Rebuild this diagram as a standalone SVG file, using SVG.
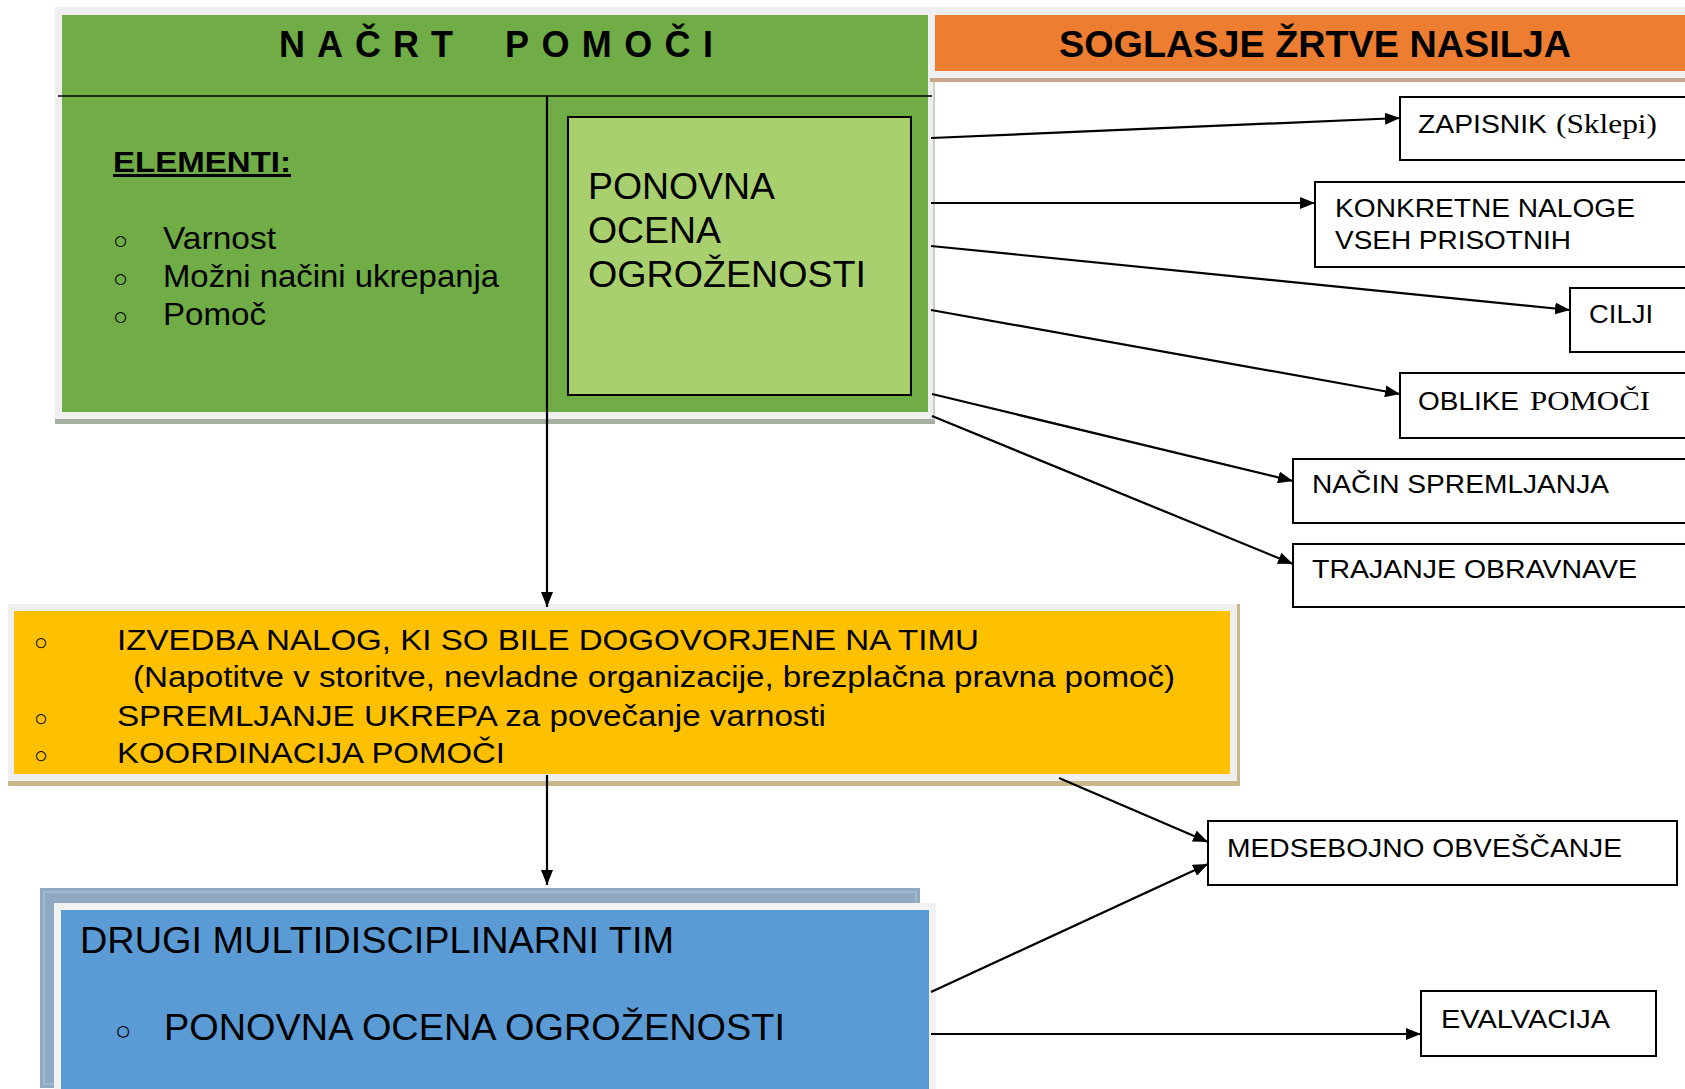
<svg xmlns="http://www.w3.org/2000/svg" width="1685" height="1089" viewBox="0 0 1685 1089">
<style>
.sans{font-family:"Liberation Sans",Arial,sans-serif;fill:#000}
.serif{font-family:"Liberation Serif","Times New Roman",serif;fill:#000}
.box{fill:#fff;stroke:#000;stroke-width:2}
.lbl{font-size:26px}
.conn{stroke:#000;stroke-width:2.2;fill:none;marker-end:url(#ah)}
</style>
<defs>
<marker id="ah" markerWidth="15" markerHeight="12" refX="15" refY="6" orient="auto" markerUnits="userSpaceOnUse">
<path d="M0,0 L15,6 L0,12 Z" fill="#000"/>
</marker>
</defs>
<rect width="1685" height="1089" fill="#fff"/>

<g id="nacrt-pomoci">
<rect x="55" y="7" width="880" height="414" fill="#efefef"/>
<rect x="55" y="419" width="880" height="5" fill="#a6b0a0"/>
<rect x="62" y="15" width="866" height="397" fill="#70ad47"/>
<line x1="58" y1="96" x2="932" y2="96" stroke="#000" stroke-width="1.5"/>
<text class="sans" x="279" y="57" font-size="36" font-weight="bold" textLength="174" lengthAdjust="spacing">NAČRT</text>
<text class="sans" x="505" y="57" font-size="36" font-weight="bold" textLength="208" lengthAdjust="spacing">POMOČI</text>
<text class="sans" x="113" y="172" font-size="30" font-weight="bold" text-decoration="underline" textLength="178" lengthAdjust="spacingAndGlyphs">ELEMENTI:</text>
<g class="sans" font-size="32">
<text x="113" y="249" font-size="25">○</text><text x="163" y="249" textLength="113" lengthAdjust="spacingAndGlyphs">Varnost</text>
<text x="113" y="287" font-size="25">○</text><text x="163" y="287" textLength="336" lengthAdjust="spacingAndGlyphs">Možni načini ukrepanja</text>
<text x="113" y="325" font-size="25">○</text><text x="163" y="325" textLength="103" lengthAdjust="spacingAndGlyphs">Pomoč</text>
</g>
</g>

<g id="ponovna-ocena">
<rect x="568" y="117" width="343" height="278" fill="#a9d06e" stroke="#000" stroke-width="2"/>
<g class="sans" font-size="36">
<text x="588" y="199" textLength="187" lengthAdjust="spacingAndGlyphs">PONOVNA</text>
<text x="588" y="243" textLength="133" lengthAdjust="spacingAndGlyphs">OCENA</text>
<text x="588" y="287" textLength="278" lengthAdjust="spacingAndGlyphs">OGROŽENOSTI</text>
</g>
</g>

<g id="soglasje">
<rect x="930" y="7" width="755" height="72" fill="#efefef"/>
<rect x="935" y="15" width="750" height="56" fill="#ed7d31"/>
<rect x="930" y="78" width="755" height="4" fill="#c9a58a"/>
<line x1="934" y1="82" x2="934" y2="420" stroke="#c9d2c2" stroke-width="2"/>
<text class="sans" x="1059" y="57" font-size="36" font-weight="bold" textLength="512" lengthAdjust="spacingAndGlyphs">SOGLASJE ŽRTVE NASILJA</text>
</g>

<g id="zapisnik">
<rect class="box" x="1400" y="97" width="290" height="63"/>
<text class="sans lbl" x="1418" y="133" textLength="129" lengthAdjust="spacingAndGlyphs">ZAPISNIK</text>
<text class="serif" x="1556" y="133" font-size="28" textLength="101" lengthAdjust="spacingAndGlyphs">(Sklepi)</text>
</g>
<g id="konkretne">
<rect class="box" x="1315" y="182" width="375" height="85"/>
<text class="sans lbl" x="1335" y="217" textLength="300" lengthAdjust="spacingAndGlyphs">KONKRETNE NALOGE</text>
<text class="sans lbl" x="1335" y="249" textLength="236" lengthAdjust="spacingAndGlyphs">VSEH PRISOTNIH</text>
</g>
<g id="cilji">
<rect class="box" x="1570" y="288" width="120" height="64"/>
<text class="sans lbl" x="1589" y="323" textLength="64" lengthAdjust="spacingAndGlyphs">CILJI</text>
</g>
<g id="oblike">
<rect class="box" x="1400" y="373" width="290" height="65"/>
<text class="sans lbl" x="1418" y="410" textLength="101" lengthAdjust="spacingAndGlyphs">OBLIKE</text>
<text class="serif" x="1530" y="410" font-size="28" textLength="120" lengthAdjust="spacingAndGlyphs">POMOČI</text>
</g>
<g id="nacin">
<rect class="box" x="1293" y="459" width="397" height="64"/>
<text class="sans lbl" x="1312" y="493" textLength="297" lengthAdjust="spacingAndGlyphs">NAČIN SPREMLJANJA</text>
</g>
<g id="trajanje">
<rect class="box" x="1293" y="544" width="397" height="63"/>
<text class="sans lbl" x="1312" y="578" textLength="325" lengthAdjust="spacingAndGlyphs">TRAJANJE OBRAVNAVE</text>
</g>

<g id="izvedba">
<rect x="8" y="604" width="1232" height="180" fill="#efefef"/>
<rect x="8" y="781" width="1232" height="5" fill="#c8b88a"/>
<rect x="1237" y="604" width="3" height="182" fill="#c8b88a"/>
<rect x="14" y="611" width="1216" height="163" fill="#ffc000"/>
<g class="sans" font-size="30">
<text x="34" y="650" font-size="23">○</text><text x="117" y="650" textLength="862" lengthAdjust="spacingAndGlyphs">IZVEDBA NALOG, KI SO BILE DOGOVORJENE NA TIMU</text>
<text x="133" y="687" textLength="1042" lengthAdjust="spacingAndGlyphs">(Napotitve v storitve, nevladne organizacije, brezplačna pravna pomoč)</text>
<text x="34" y="726" font-size="23">○</text><text x="117" y="726" textLength="709" lengthAdjust="spacingAndGlyphs">SPREMLJANJE UKREPA za povečanje varnosti</text>
<text x="34" y="763" font-size="23">○</text><text x="117" y="763" textLength="388" lengthAdjust="spacingAndGlyphs">KOORDINACIJA POMOČI</text>
</g>
</g>

<g id="drugi-tim">
<rect x="40" y="888" width="880" height="200" fill="#8ea9c1"/>
<rect x="44" y="892" width="872" height="192" fill="none" stroke="#b4c6d6" stroke-width="1"/>
<rect x="54" y="903" width="882" height="186" fill="#f2f2f2"/>
<rect x="61" y="910" width="868" height="179" fill="#5b9bd5"/>
<g class="sans" font-size="37">
<text x="80" y="953" textLength="594" lengthAdjust="spacingAndGlyphs">DRUGI MULTIDISCIPLINARNI TIM</text>
<text x="115" y="1040" font-size="27">○</text><text x="164" y="1040" textLength="621" lengthAdjust="spacingAndGlyphs">PONOVNA OCENA OGROŽENOSTI</text>
</g>
</g>

<g id="medsebojno">
<rect class="box" x="1208" y="821" width="469" height="64"/>
<text class="sans lbl" x="1227" y="857" textLength="395" lengthAdjust="spacingAndGlyphs">MEDSEBOJNO OBVEŠČANJE</text>
</g>
<g id="evalvacija">
<rect class="box" x="1421" y="991" width="235" height="65"/>
<text class="sans lbl" x="1441" y="1028" textLength="169" lengthAdjust="spacingAndGlyphs">EVALVACIJA</text>
</g>

<g id="connectors">
<line class="conn" x1="547" y1="96" x2="547" y2="607"/>
<line class="conn" x1="547" y1="775" x2="547" y2="885"/>
<line class="conn" x1="931" y1="138" x2="1400" y2="118"/>
<line class="conn" x1="931" y1="203" x2="1315" y2="203"/>
<line class="conn" x1="931" y1="246" x2="1570" y2="310"/>
<line class="conn" x1="931" y1="310" x2="1400" y2="394"/>
<line class="conn" x1="932" y1="394" x2="1293" y2="481"/>
<line class="conn" x1="932" y1="416" x2="1293" y2="564"/>
<line class="conn" x1="1059" y1="778" x2="1208" y2="842"/>
<line class="conn" x1="931" y1="992" x2="1208" y2="864"/>
<line class="conn" x1="931" y1="1034" x2="1421" y2="1034"/>
</g>
</svg>
